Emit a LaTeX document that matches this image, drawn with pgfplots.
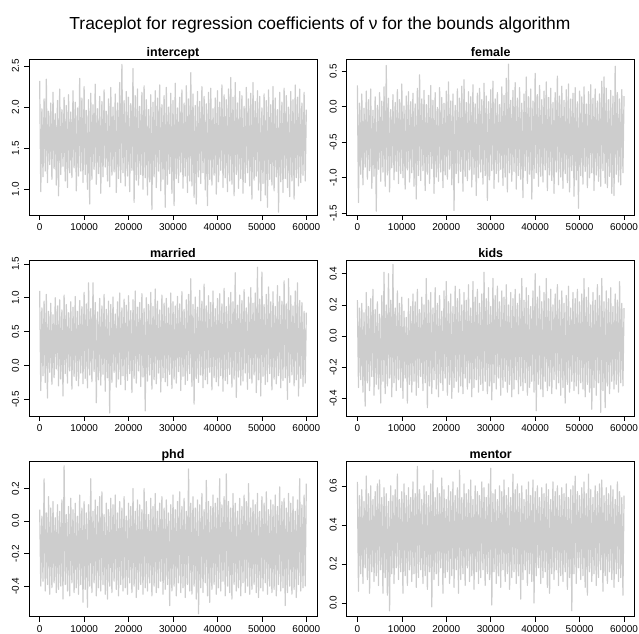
\documentclass[border=0pt]{standalone}
\usepackage{fontspec}
\setmainfont{Liberation Sans}
\usepackage{pgfplots}
\usepackage{pgfplotstable}
\pgfplotsset{compat=1.18}
\definecolor{tracegray}{RGB}{205,205,205}

% MCMC traces: alternating upper / lower extremes every 250 iterations
\pgfplotstableread[row sep=\\,header=false]{
2.32\\0.97\\1.98\\1.15\\2.10\\1.22\\2.34\\1.08\\1.95\\1.30\\2.05\\1.12\\2.18\\1.25\\1.92\\1.05\\2.08\\0.92\\2.22\\1.18\\
1.97\\1.28\\2.12\\1.10\\2.02\\1.02\\2.15\\1.20\\1.94\\1.14\\2.20\\1.26\\2.06\\0.98\\1.99\\1.16\\2.35\\1.22\\2.11\\1.08\\
2.25\\1.18\\1.96\\1.00\\2.09\\0.82\\2.17\\1.12\\2.03\\1.24\\2.28\\1.06\\1.98\\1.19\\2.13\\0.95\\2.07\\1.15\\2.21\\1.27\\
1.95\\1.10\\2.10\\1.03\\2.24\\1.17\\2.00\\1.21\\2.16\\0.96\\2.05\\1.13\\2.30\\1.08\\2.52\\1.20\\2.08\\1.04\\2.19\\1.16\\
2.12\\0.97\\2.04\\1.23\\2.47\\0.84\\2.14\\1.11\\2.22\\1.05\\2.01\\1.18\\2.18\\1.00\\2.26\\1.14\\2.09\\0.93\\1.97\\1.09\\
2.15\\0.75\\2.06\\1.15\\2.20\\1.02\\2.11\\1.22\\2.27\\0.98\\2.03\\1.12\\2.14\\0.78\\2.24\\1.06\\2.00\\1.19\\2.17\\0.95\\
2.08\\0.80\\2.29\\1.13\\1.99\\1.08\\2.12\\1.21\\2.21\\1.01\\2.05\\1.16\\2.26\\0.96\\2.10\\1.10\\2.42\\1.04\\2.16\\0.90\\
2.02\\0.82\\2.19\\1.15\\2.07\\1.07\\2.25\\1.20\\2.13\\0.99\\2.04\\0.80\\2.18\\1.12\\2.23\\1.05\\1.98\\1.17\\2.11\\0.94\\
2.20\\1.09\\2.06\\1.23\\2.27\\1.02\\2.15\\1.14\\2.09\\0.97\\2.22\\1.10\\2.36\\1.06\\2.12\\0.92\\2.30\\1.18\\2.05\\1.01\\
2.19\\1.13\\2.14\\0.95\\2.01\\1.08\\2.24\\1.20\\2.10\\1.04\\2.17\\0.88\\2.30\\1.11\\2.07\\1.16\\2.20\\0.99\\2.13\\0.86\\
1.99\\1.07\\2.16\\0.93\\2.08\\0.78\\2.21\\1.12\\2.03\\1.05\\2.25\\0.98\\2.11\\1.15\\1.97\\0.72\\2.18\\1.09\\2.06\\0.96\\
2.23\\1.13\\2.14\\1.02\\2.00\\0.91\\2.19\\1.10\\2.09\\0.88\\2.27\\1.14\\2.12\\1.04\\2.22\\1.08\\2.05\\1.17\\2.18\\1.10\\
1.97\\
}\tIntercept

\pgfplotstableread[row sep=\\,header=false]{
0.30\\-1.35\\0.05\\-0.95\\0.18\\-1.10\\-0.02\\-0.85\\0.22\\-1.02\\0.10\\-0.90\\0.25\\-1.15\\-0.05\\-0.98\\0.14\\-1.47\\0.02\\-0.88\\
0.20\\-1.05\\0.08\\-0.92\\0.28\\-1.12\\0.58\\-0.96\\0.12\\-1.20\\-0.04\\-0.86\\0.17\\-1.03\\0.06\\-0.91\\0.24\\-1.08\\0.10\\-0.94\\
0.32\\-1.00\\0.01\\-1.16\\0.15\\-0.89\\0.21\\-1.06\\0.07\\-0.93\\0.19\\-1.12\\0.04\\-1.30\\0.26\\-0.97\\0.45\\-1.04\\0.11\\-0.90\\
0.23\\-1.18\\0.03\\-0.95\\0.16\\-1.08\\0.30\\-0.87\\0.09\\-1.22\\0.20\\-0.99\\-0.01\\-1.05\\0.27\\-0.92\\0.13\\-1.14\\0.05\\-0.96\\
0.22\\-1.02\\0.35\\-0.88\\0.08\\-1.10\\0.18\\-1.46\\0.02\\-0.94\\0.25\\-1.07\\0.12\\-0.91\\0.29\\-1.19\\0.38\\-0.98\\0.06\\-1.04\\
0.21\\-0.89\\0.14\\-1.13\\0.31\\-0.95\\0.04\\-1.25\\0.19\\-1.00\\0.26\\-0.92\\0.10\\-1.09\\0.33\\-0.97\\0.15\\-1.32\\0.07\\-1.03\\
0.24\\-0.90\\0.36\\-1.15\\0.11\\-0.94\\0.20\\-1.06\\0.03\\-0.88\\0.28\\-1.11\\0.16\\-0.99\\0.40\\-1.20\\0.60\\-0.93\\0.09\\-1.05\\
0.23\\-0.91\\0.34\\-1.16\\0.12\\-0.97\\0.27\\-1.02\\0.05\\-1.28\\0.18\\-0.90\\0.42\\-1.08\\0.14\\-0.95\\0.25\\-1.30\\0.08\\-1.01\\
0.47\\-0.93\\0.17\\-1.12\\0.30\\-0.98\\0.10\\-1.06\\0.22\\-0.89\\0.35\\-1.18\\0.13\\-0.96\\0.26\\-1.04\\0.06\\-1.22\\0.20\\-0.92\\
0.43\\-1.10\\0.15\\-0.99\\0.29\\-1.15\\0.09\\-0.94\\0.24\\-1.07\\0.32\\-1.20\\0.11\\-0.90\\0.19\\-1.26\\0.27\\-1.03\\0.07\\-1.43\\
0.22\\-0.97\\0.14\\-1.09\\0.28\\-0.91\\0.04\\-1.14\\0.21\\-1.00\\0.31\\-0.93\\0.12\\-1.18\\0.25\\-0.96\\0.08\\-1.05\\0.18\\-1.12\\
0.36\\-0.90\\0.42\\-1.08\\0.26\\-1.14\\0.10\\-0.98\\0.23\\-1.22\\0.15\\-1.25\\0.57\\-0.95\\0.20\\-1.06\\0.11\\-1.10\\0.24\\-0.93\\
0.15\\
}\tFemale

\pgfplotstableread[row sep=\\,header=false]{
1.10\\-0.37\\0.85\\-0.15\\0.95\\-0.25\\1.05\\-0.48\\0.80\\-0.10\\0.92\\-0.28\\0.75\\-0.18\\1.00\\-0.05\\0.88\\-0.30\\0.97\\-0.20\\
0.82\\-0.45\\1.04\\-0.12\\0.90\\-0.26\\0.78\\-0.08\\0.94\\-0.35\\0.86\\-0.16\\1.02\\-0.22\\0.80\\-0.30\\0.96\\-0.11\\0.87\\-0.27\\
1.08\\-0.19\\0.91\\-0.33\\1.22\\-0.14\\0.84\\-0.24\\1.22\\-0.09\\0.93\\-0.55\\0.79\\-0.21\\0.99\\-0.29\\0.88\\-0.13\\1.05\\-0.38\\
0.83\\-0.18\\0.95\\-0.70\\0.90\\-0.25\\1.01\\-0.10\\0.76\\-0.32\\0.94\\-0.20\\1.07\\-0.28\\0.85\\-0.15\\0.98\\-0.36\\0.89\\-0.22\\
1.03\\-0.12\\0.81\\-0.40\\0.97\\-0.19\\1.10\\-0.26\\0.86\\-0.08\\0.93\\-0.31\\1.06\\-0.17\\0.84\\-0.67\\1.00\\-0.23\\0.90\\-0.14\\
1.08\\-0.35\\0.87\\-0.21\\1.13\\-0.27\\0.95\\-0.11\\0.82\\-0.39\\1.04\\-0.18\\0.92\\-0.24\\0.99\\-0.30\\0.85\\-0.13\\1.07\\-0.34\\
0.94\\-0.20\\0.88\\-0.26\\1.02\\-0.09\\0.91\\-0.37\\1.09\\-0.16\\0.83\\-0.28\\0.97\\-0.22\\1.05\\-0.12\\1.28\\-0.31\\0.90\\-0.57\\
1.01\\-0.19\\0.86\\-0.25\\1.11\\-0.14\\0.95\\-0.33\\1.20\\-0.21\\0.88\\-0.27\\1.03\\-0.10\\0.93\\-0.36\\1.10\\-0.18\\0.84\\-0.24\\
0.99\\-0.30\\1.06\\-0.15\\0.91\\-0.38\\1.14\\-0.22\\0.87\\-0.27\\1.00\\-0.13\\1.08\\-0.32\\0.94\\-0.20\\1.37\\-0.47\\0.89\\-0.17\\
1.04\\-0.29\\0.96\\-0.23\\1.12\\-0.11\\0.85\\-0.35\\1.01\\-0.19\\1.15\\-0.26\\0.92\\-0.14\\1.07\\-0.40\\1.45\\-0.21\\0.98\\-0.45\\
1.38\\-0.16\\0.90\\-0.28\\1.05\\-0.24\\1.16\\-0.12\\0.94\\-0.36\\1.09\\-0.20\\0.87\\-0.27\\1.18\\-0.15\\1.02\\-0.33\\0.95\\-0.22\\
1.25\\-0.18\\0.91\\-0.50\\1.28\\-0.25\\1.03\\-0.14\\0.88\\-0.30\\1.10\\-0.21\\1.22\\-0.45\\0.96\\-0.19\\0.93\\-0.31\\0.80\\-0.26\\
0.78\\
}\tMarried

\pgfplotstableread[row sep=\\,header=false]{
0.23\\-0.33\\0.18\\-0.28\\0.21\\-0.36\\0.15\\-0.45\\0.28\\-0.30\\0.19\\-0.35\\0.24\\-0.26\\0.30\\-0.38\\0.17\\-0.31\\0.22\\-0.34\\
0.14\\-0.43\\0.26\\-0.29\\0.41\\-0.37\\0.20\\-0.32\\0.40\\-0.27\\0.23\\-0.39\\0.46\\-0.30\\0.18\\-0.35\\0.29\\-0.28\\0.21\\-0.33\\
0.25\\-0.40\\0.16\\-0.27\\0.12\\-0.43\\0.24\\-0.31\\0.19\\-0.36\\0.27\\-0.29\\0.22\\-0.38\\0.30\\-0.33\\0.17\\-0.26\\0.25\\-0.35\\
0.20\\-0.30\\0.37\\-0.46\\0.23\\-0.32\\0.28\\-0.37\\0.18\\-0.28\\0.31\\-0.34\\0.21\\-0.39\\0.26\\-0.30\\0.16\\-0.35\\0.29\\-0.27\\
0.35\\-0.38\\0.22\\-0.31\\0.27\\-0.40\\0.19\\-0.33\\0.32\\-0.29\\0.24\\-0.36\\0.30\\-0.32\\0.20\\-0.37\\0.28\\-0.27\\0.23\\-0.34\\
0.33\\-0.30\\0.18\\-0.39\\0.35\\-0.33\\0.25\\-0.28\\0.30\\-0.36\\0.21\\-0.31\\0.27\\-0.35\\0.41\\-0.29\\0.24\\-0.37\\0.31\\-0.32\\
0.19\\-0.41\\0.37\\-0.30\\0.26\\-0.34\\0.32\\-0.27\\0.22\\-0.38\\0.29\\-0.33\\0.25\\-0.29\\0.33\\-0.36\\0.20\\-0.31\\0.28\\-0.39\\
0.24\\-0.34\\0.30\\-0.28\\0.21\\-0.37\\0.27\\-0.32\\0.37\\-0.35\\0.23\\-0.30\\0.31\\-0.38\\0.26\\-0.33\\0.19\\-0.29\\0.29\\-0.36\\
0.40\\-0.48\\0.25\\-0.31\\0.32\\-0.34\\0.22\\-0.39\\0.28\\-0.29\\0.37\\-0.35\\0.24\\-0.32\\0.30\\-0.37\\0.20\\-0.28\\0.27\\-0.34\\
0.33\\-0.30\\0.23\\-0.38\\0.29\\-0.33\\0.21\\-0.43\\0.26\\-0.31\\0.32\\-0.36\\0.18\\-0.29\\0.28\\-0.35\\0.24\\-0.32\\0.30\\-0.37\\
0.22\\-0.30\\0.27\\-0.34\\0.37\\-0.39\\0.25\\-0.31\\0.31\\-0.36\\0.20\\-0.47\\0.28\\-0.33\\0.23\\-0.38\\0.33\\-0.30\\0.26\\-0.49\\
0.37\\-0.35\\0.22\\-0.46\\0.29\\-0.32\\0.24\\-0.37\\0.31\\-0.29\\0.19\\-0.34\\0.27\\-0.31\\0.23\\-0.36\\0.35\\-0.30\\0.21\\-0.32\\
0.18\\
}\tKids

\pgfplotstableread[row sep=\\,header=false]{
0.07\\-0.40\\0.03\\-0.37\\0.26\\-0.43\\0.05\\-0.39\\0.15\\-0.45\\0.08\\-0.41\\0.12\\-0.38\\0.02\\-0.44\\0.10\\-0.42\\0.06\\-0.40\\
0.13\\-0.48\\0.34\\-0.39\\0.04\\-0.43\\0.09\\-0.46\\0.14\\-0.38\\0.07\\-0.44\\0.11\\-0.41\\0.03\\-0.45\\0.16\\-0.39\\0.08\\-0.50\\
0.12\\-0.42\\0.05\\-0.53\\0.10\\-0.40\\0.26\\-0.44\\0.06\\-0.38\\0.13\\-0.46\\0.09\\-0.41\\0.15\\-0.43\\0.18\\-0.39\\0.04\\-0.45\\
0.11\\-0.48\\0.07\\-0.40\\0.14\\-0.44\\0.10\\-0.37\\0.16\\-0.42\\0.05\\-0.46\\0.12\\-0.39\\0.08\\-0.43\\0.15\\-0.41\\0.03\\-0.45\\
0.11\\-0.38\\0.09\\-0.44\\0.20\\-0.40\\0.06\\-0.47\\0.13\\-0.42\\0.10\\-0.39\\0.07\\-0.45\\0.20\\-0.41\\0.12\\-0.43\\0.04\\-0.38\\
0.14\\-0.46\\0.09\\-0.40\\0.17\\-0.44\\0.06\\-0.41\\0.11\\-0.37\\0.15\\-0.45\\0.08\\-0.42\\0.13\\-0.39\\0.05\\-0.52\\0.10\\-0.43\\
0.16\\-0.40\\0.07\\-0.46\\0.12\\-0.38\\0.18\\-0.44\\0.09\\-0.41\\0.14\\-0.47\\0.06\\-0.39\\0.32\\-0.43\\0.11\\-0.45\\0.15\\-0.40\\
0.08\\-0.48\\0.13\\-0.57\\0.10\\-0.41\\0.17\\-0.44\\0.07\\-0.38\\0.25\\-0.46\\0.12\\-0.50\\0.09\\-0.42\\0.16\\-0.39\\0.11\\-0.45\\
0.14\\-0.41\\0.26\\-0.43\\0.10\\-0.37\\0.15\\-0.46\\0.29\\-0.40\\0.12\\-0.44\\0.08\\-0.48\\0.17\\-0.39\\0.11\\-0.43\\0.06\\-0.41\\
0.14\\-0.46\\0.09\\-0.38\\0.16\\-0.44\\0.12\\-0.40\\0.23\\-0.45\\0.08\\-0.42\\0.13\\-0.39\\0.10\\-0.44\\0.17\\-0.47\\0.06\\-0.41\\
0.15\\-0.43\\0.11\\-0.38\\0.18\\-0.45\\0.07\\-0.40\\0.13\\-0.44\\0.10\\-0.42\\0.16\\-0.46\\0.09\\-0.39\\0.21\\-0.43\\0.12\\-0.41\\
0.14\\-0.52\\0.08\\-0.44\\0.17\\-0.40\\0.11\\-0.45\\0.15\\-0.42\\0.06\\-0.47\\0.13\\-0.39\\0.26\\-0.43\\0.10\\-0.41\\0.16\\-0.40\\
0.23\\
}\tPhd

\pgfplotstableread[row sep=\\,header=false]{
0.62\\0.06\\0.55\\0.15\\0.58\\0.10\\0.52\\0.18\\0.65\\0.12\\0.56\\0.05\\0.60\\0.16\\0.53\\0.11\\0.57\\0.14\\0.61\\0.09\\
0.63\\0.17\\0.54\\0.05\\0.59\\0.13\\0.56\\0.04\\0.52\\-0.04\\0.60\\0.15\\0.55\\0.10\\0.58\\0.18\\0.66\\0.12\\0.53\\0.16\\
0.57\\0.05\\0.61\\0.14\\0.55\\0.09\\0.59\\0.17\\0.54\\0.11\\0.62\\0.15\\0.56\\0.08\\0.70\\0.13\\0.58\\0.17\\0.53\\0.10\\
0.60\\0.14\\0.57\\0.07\\0.55\\0.16\\0.61\\-0.02\\0.68\\0.12\\0.54\\0.15\\0.59\\0.09\\0.56\\0.18\\0.64\\0.05\\0.58\\0.13\\
0.53\\0.16\\0.60\\0.10\\0.57\\0.14\\0.62\\0.08\\0.55\\0.17\\0.59\\0.05\\0.68\\0.12\\0.54\\0.15\\0.61\\0.09\\0.56\\0.18\\
0.58\\0.11\\0.63\\0.14\\0.53\\0.07\\0.60\\0.16\\0.57\\0.10\\0.55\\0.13\\0.62\\0.17\\0.59\\0.09\\0.54\\0.15\\0.61\\0.12\\
0.69\\-0.01\\0.56\\0.16\\0.58\\0.10\\0.53\\0.14\\0.60\\0.08\\0.57\\0.17\\0.63\\0.11\\0.55\\0.15\\0.59\\0.07\\0.54\\0.13\\
0.66\\0.16\\0.58\\0.10\\0.61\\0.14\\0.56\\0.02\\0.60\\0.12\\0.53\\0.17\\0.58\\0.09\\0.62\\0.15\\0.55\\0.11\\0.63\\0.00\\
0.57\\0.14\\0.60\\0.18\\0.54\\0.10\\0.59\\0.13\\0.56\\0.16\\0.61\\0.08\\0.58\\0.05\\0.53\\0.15\\0.62\\0.12\\0.57\\0.17\\
0.60\\0.09\\0.55\\0.14\\0.59\\0.11\\0.56\\0.16\\0.61\\0.07\\0.54\\0.13\\0.58\\-0.04\\0.60\\0.15\\0.65\\0.10\\0.57\\0.18\\
0.55\\0.12\\0.59\\0.14\\0.62\\0.08\\0.56\\0.04\\0.66\\0.16\\0.58\\0.11\\0.54\\0.15\\0.60\\0.09\\0.57\\0.13\\0.61\\0.17\\
0.63\\0.06\\0.55\\0.14\\0.59\\0.10\\0.56\\0.16\\0.60\\0.12\\0.58\\0.08\\0.53\\0.15\\0.62\\0.11\\0.57\\0.13\\0.54\\0.04\\
0.55\\
}\tMentor

\pgfplotsset{
  trace/.style={
    scale only axis, width=288bp, height=155.5bp,
    xmin=-2400, xmax=62400,
    scaled x ticks=false,
    xtick={0,10000,20000,30000,40000,50000,60000},
    xticklabels={0,10000,20000,30000,40000,50000,60000},
    tick align=outside, tick pos=left,
    major tick length=5bp,
    every tick/.style={black, line width=0.6bp},
    axis line style={line width=0.75bp},
    tick label style={font=\fontsize{10}{12}\selectfont},
    yticklabel style={rotate=90, anchor=south},
    xticklabel shift=0bp, yticklabel shift=1.5bp,
    title style={font=\bfseries\fontsize{12.5}{14}\selectfont,
      at={(0.5,1)}, anchor=base, yshift=-3.5pt},
    axis on top,
  },
  tline/.style={tracegray, line width=1.2bp, line join=round, no markers},
}

\begin{document}
\begin{tikzpicture}[x=1bp, y=1bp]
\useasboundingbox (0,0) rectangle (639,634);
\node[anchor=base, font=\fontsize{17.5}{20}\selectfont] at (320,604.3)
  {Traceplot for regression coefficients of ν for the bounds algorithm};

\begin{axis}[trace, at={(29bp,419bp)}, title={intercept},
  ymin=0.686, ymax=2.58, ytick={1,1.5,2,2.5}, yticklabels={1.0,1.5,2.0,2.5}]
\addplot[tline] table[x expr=\coordindex*250, y index=0] {\tIntercept};
\end{axis}

\begin{axis}[trace, at={(346.7bp,419bp)}, title={female},
  ymin=-1.524, ymax=0.665, ytick={-1.5,-1,-0.5,0,0.5}, yticklabels={-1.5,-1.0,-0.5,0.0,0.5}]
\addplot[tline] table[x expr=\coordindex*250, y index=0] {\tFemale};
\end{axis}

\begin{axis}[trace, at={(29bp,218bp)}, title={married},
  ymin=-0.745, ymax=1.55, ytick={-0.5,0,0.5,1,1.5}, yticklabels={-0.5,0.0,0.5,1.0,1.5}]
\addplot[tline] table[x expr=\coordindex*250, y index=0] {\tMarried};
\end{axis}

\begin{axis}[trace, at={(346.7bp,218bp)}, title={kids},
  ymin=-0.513, ymax=0.485, ytick={-0.4,-0.2,0,0.2,0.4}, yticklabels={-0.4,-0.2,0.0,0.2,0.4}]
\addplot[tline] table[x expr=\coordindex*250, y index=0] {\tKids};
\end{axis}

\begin{axis}[trace, at={(29bp,17.3bp)}, title={phd},
  ymin=-0.588, ymax=0.368, ytick={-0.4,-0.2,0,0.2}, yticklabels={-0.4,-0.2,0.0,0.2}]
\addplot[tline] table[x expr=\coordindex*250, y index=0] {\tPhd};
\end{axis}

\begin{axis}[trace, at={(346.7bp,17.3bp)}, title={mentor},
  ymin=-0.07, ymax=0.726, ytick={0,0.2,0.4,0.6}, yticklabels={0.0,0.2,0.4,0.6}]
\addplot[tline] table[x expr=\coordindex*250, y index=0] {\tMentor};
\end{axis}
\end{tikzpicture}
\end{document}
